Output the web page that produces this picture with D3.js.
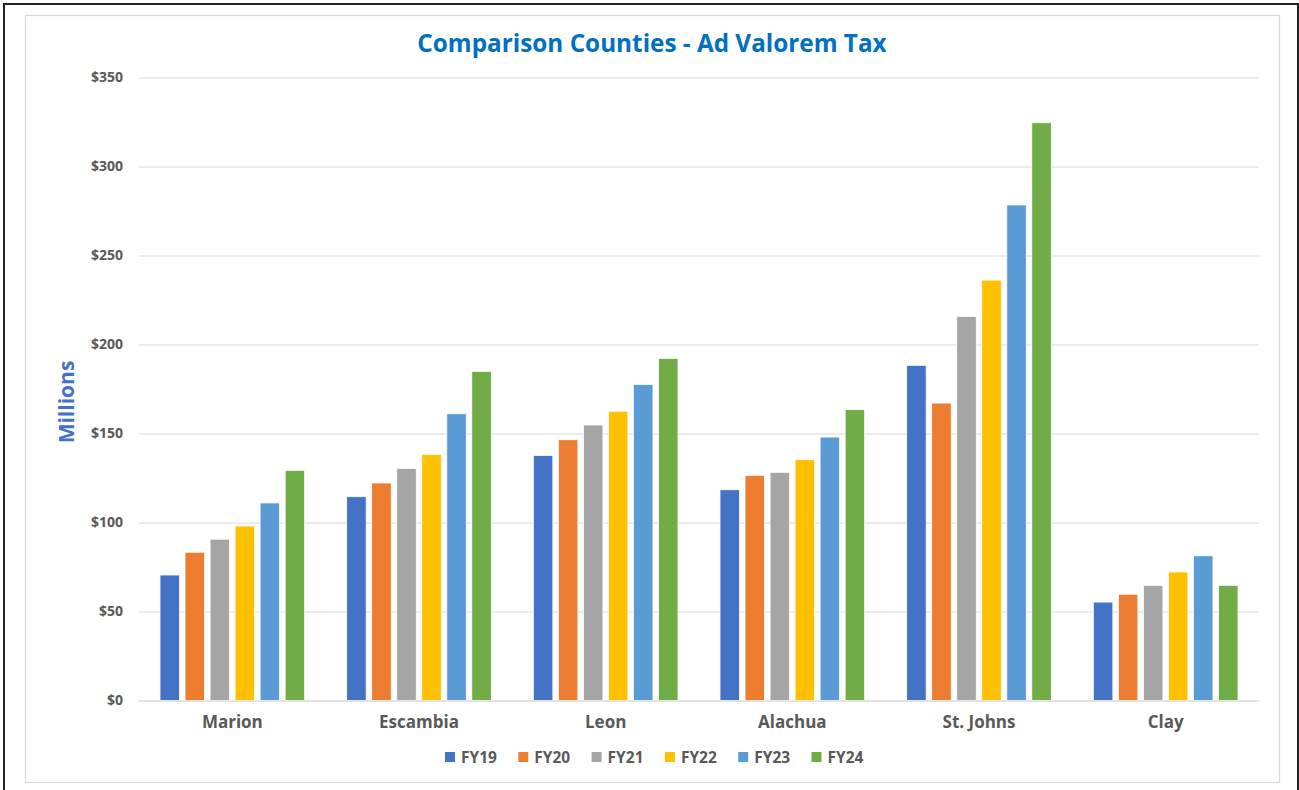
<!DOCTYPE html>
<html>
<head>
<meta charset="utf-8">
<script src="https://cdn.jsdelivr.net/npm/d3@7"></script>
<style>
  body { margin: 0; background: #fff; }
  svg { display: block; }
  svg text { font-family: "Open Sans", "Noto Sans", sans-serif; }
</style>
</head>
<body>
<div id="chart"></div>
<script>
// chart data (millions of dollars)
var counties = ["Marion", "Escambia", "Leon", "Alachua", "St. Johns", "Clay"];
var years = ["FY19", "FY20", "FY21", "FY22", "FY23", "FY24"];
var fy19 = [70.5, 114.5, 137.7, 118.4, 188.3, 55.3];
var fy20 = [83.3, 122.2, 146.5, 126.5, 167.1, 59.7];
var fy21 = [90.6, 130.4, 154.8, 128.2, 215.8, 64.7];
var fy22 = [98.0, 138.3, 162.5, 135.3, 236.2, 72.2];
var fy23 = [111.0, 161.1, 177.6, 148.0, 278.4, 81.3];
var fy24 = [129.3, 184.9, 192.2, 163.4, 324.6, 64.7];
var yTicks = [0, 50, 100, 150, 200, 250, 300, 350];

var series = [fy19, fy20, fy21, fy22, fy23, fy24];
var colors = ["#4472C4", "#ED7D31", "#A5A5A5", "#FFC000", "#5B9BD5", "#70AD47"];

var width = 1299;
var height = 790;
var plotLeft = 139, plotRight = 1259;
var plotTop = 77.5, plotBottom = 700.5;

var svg = d3.select("#chart")
    .append("svg")
    .attr("width", width)
    .attr("height", height);

// outer frame and chart area border
svg.append("rect")
    .attr("x", 4).attr("y", 4)
    .attr("width", 1294).attr("height", 800)
    .attr("fill", "none")
    .attr("stroke", "#222")
    .attr("stroke-width", 2);

svg.append("rect")
    .attr("x", 25.5).attr("y", 15.5)
    .attr("width", 1254).attr("height", 767)
    .attr("fill", "#fff")
    .attr("stroke", "#D9D9D9")
    .attr("stroke-width", 1.2);

var y = d3.scaleLinear()
    .domain([0, 350])
    .range([plotBottom, plotTop]);

var x0 = d3.scaleBand()
    .domain(counties)
    .range([plotLeft, plotRight])
    .paddingInner(0.225)
    .paddingOuter(0.1125);

var x1 = d3.scaleBand()
    .domain(years)
    .range([0, x0.bandwidth()])
    .paddingInner(0.22)
    .paddingOuter(0);

// gridlines + y labels
var yAxis = d3.axisLeft(y)
    .tickValues(yTicks)
    .tickSize(-(plotRight - plotLeft))
    .tickPadding(16)
    .tickFormat(d => "$" + d);

var gy = svg.append("g")
    .attr("transform", "translate(" + plotLeft + ",0)")
    .call(yAxis)
    .attr("font-family", null);

gy.select(".domain").remove();
gy.selectAll(".tick line")
    .attr("stroke", "#D9D9D9")
    .attr("stroke-width", 1.2);
gy.selectAll(".tick text")
    .attr("fill", "#595959")
    .style("font-size", "14px")
    .style("font-weight", "bold");

// bars
var groups = svg.append("g")
    .selectAll("g")
    .data(counties)
    .enter().append("g")
    .attr("transform", d => "translate(" + x0(d) + ",0)");

groups.selectAll("rect")
    .data((d, i) => series.map((s, j) => ({ year: years[j], value: s[i], color: colors[j] })))
    .enter().append("rect")
    .attr("x", d => x1(d.year))
    .attr("y", d => y(d.value))
    .attr("width", x1.bandwidth())
    .attr("height", d => y(0) - y(d.value))
    .attr("fill", d => d.color)
    .attr("stroke", "#fff")
    .attr("stroke-width", 0.8);

// category axis
var xAxis = d3.axisBottom(x0).tickSize(0).tickPadding(15);
var gx = svg.append("g")
    .attr("transform", "translate(0," + plotBottom + ")")
    .call(xAxis)
    .attr("font-family", null);
gx.select(".domain")
    .attr("stroke", "#D9D9D9")
    .attr("stroke-width", 1.2);
gx.selectAll(".tick text")
    .attr("fill", "#595959")
    .style("font-size", "17px")
    .style("font-weight", "bold");

// title
svg.append("text")
    .attr("x", 652)
    .attr("y", 52)
    .attr("text-anchor", "middle")
    .attr("fill", "#0070C0")
    .style("font-size", "24.3px")
    .style("font-weight", "bold")
    .text("Comparison Counties - Ad Valorem Tax");

// y axis title
svg.append("text")
    .attr("transform", "translate(74,402) rotate(-90)")
    .attr("text-anchor", "middle")
    .attr("fill", "#4472C4")
    .style("font-size", "21px")
    .style("font-weight", "bold")
    .text("Millions");

// legend
var legend = svg.append("g")
    .selectAll("g")
    .data(years)
    .enter().append("g")
    .attr("transform", (d, i) => "translate(" + (445 + i * 73.3) + ",752)");

legend.append("rect")
    .attr("width", 10)
    .attr("height", 10)
    .attr("fill", (d, i) => colors[i]);

legend.append("text")
    .attr("x", 16)
    .attr("y", 10.5)
    .attr("fill", "#595959")
    .style("font-size", "15.5px")
    .style("font-weight", "bold")
    .text(d => d);
</script>
</body>
</html>
